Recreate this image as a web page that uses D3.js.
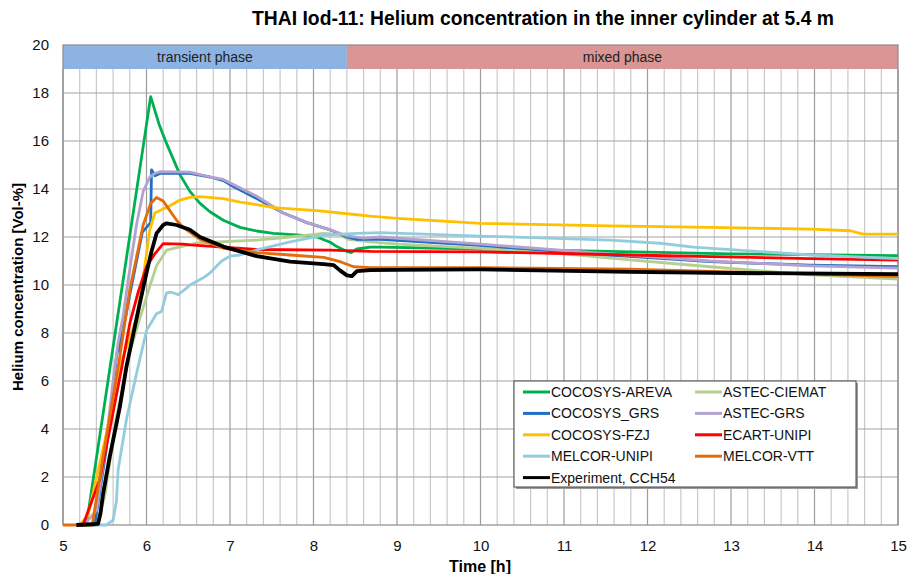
<!DOCTYPE html>
<html>
<head>
<meta charset="utf-8">
<script src="https://cdn.jsdelivr.net/npm/d3@7"></script>
<style>
  body { margin: 0; background: #fff; }
  svg { display: block; font-family: "Liberation Sans", Arial, sans-serif; }
</style>
</head>
<body>
<div id="chart"></div>
<script>
// series values: [time h, helium vol-%]
const cocosysAreva = [[5.2,0],[5.28,0],[6.05,17.85],[6.15,16.7],[6.24,15.9],[6.4,14.6],[6.52,13.9],[6.64,13.4],[6.76,13.05],[6.92,12.7],[7.12,12.4],[7.32,12.25],[7.52,12.15],[7.84,12.08],[8.04,12.0],[8.2,11.78],[8.28,11.6],[8.4,11.4],[8.45,11.35],[8.52,11.5],[8.68,11.58],[8.8,11.58],[10,11.5],[11.55,11.4],[13,11.3],[15,11.22]];
const astecCiemat = [[5.3,0],[5.4,0],[5.5,1.2],[5.64,4.5],[5.8,7.2],[5.92,8.6],[6.04,9.95],[6.12,10.8],[6.24,11.45],[6.44,11.62],[6.6,11.75],[7.32,11.87],[7.72,12.0],[8.12,12.15],[8.3,12.1],[8.42,11.9],[8.68,11.8],[9,11.7],[10,11.53],[11,11.3],[11.79,11.05],[12.75,10.76],[13.95,10.42],[15,10.25]];
const cocosysGrs = [[5.2,0],[5.38,0],[5.52,3.2],[5.64,7.0],[5.66,7.4],[5.68,7.25],[5.7,8.3],[5.73,8.3],[5.8,9.6],[5.95,12.2],[6.05,12.6],[6.06,14.8],[6.1,14.55],[6.16,14.65],[6.52,14.65],[6.76,14.5],[6.92,14.35],[7.04,14.1],[7.32,13.6],[7.64,13.0],[7.92,12.6],[8.2,12.3],[8.4,12.0],[8.52,11.9],[8.8,11.9],[10,11.65],[11.55,11.25],[12.75,10.97],[13.95,10.83],[15,10.76]];
const astecGrs = [[5.25,0],[5.4,0.6],[5.5,3.0],[5.6,6.0],[5.66,7.6],[5.72,8.7],[5.78,10.2],[5.88,12.5],[5.96,13.9],[6.04,14.5],[6.1,14.65],[6.16,14.72],[6.52,14.7],[6.76,14.5],[6.92,14.4],[7.32,13.7],[7.64,13.0],[7.92,12.6],[8.2,12.3],[8.4,12.05],[8.6,11.95],[8.8,12.0],[10,11.7],[11.55,11.3],[12.75,11.0],[13.95,10.8],[15,10.7]];
const cocosysFzj = [[5.2,0],[5.3,0.4],[5.5,3.5],[5.7,6.8],[5.88,8.6],[5.96,10.3],[6.04,12.3],[6.1,13.0],[6.28,13.3],[6.4,13.54],[6.52,13.65],[6.64,13.68],[6.92,13.6],[7.12,13.45],[7.32,13.35],[7.52,13.22],[8.04,13.1],[8.32,13.0],[8.68,12.87],[9,12.78],[10,12.57],[11.55,12.46],[12.75,12.4],[13.95,12.33],[14.43,12.26],[14.58,12.12],[15,12.12]];
const ecartUnipi = [[5.2,0],[5.24,0],[5.44,1.9],[5.55,3.8],[5.7,6.5],[5.8,8.4],[5.9,9.7],[6.0,10.76],[6.1,11.3],[6.2,11.72],[6.44,11.7],[6.52,11.67],[7.32,11.48],[8.2,11.45],[8.68,11.4],[10,11.38],[11.79,11.25],[13.95,11.1],[15,11.04]];
const melcorUnipi = [[5.3,0],[5.52,0],[5.6,0.2],[5.64,1.0],[5.66,2.3],[5.76,4.4],[5.88,6.3],[6.0,8.1],[6.12,8.8],[6.18,8.9],[6.24,9.67],[6.3,9.7],[6.38,9.6],[6.48,9.87],[6.52,10.0],[6.68,10.3],[6.76,10.5],[6.9,11.0],[7.0,11.2],[7.12,11.25],[7.32,11.46],[7.72,11.8],[8.12,12.08],[8.52,12.15],[8.8,12.18],[10,12.04],[11.55,11.87],[12.15,11.74],[12.55,11.58],[13.95,11.25],[15,11.1]];
const melcorVtt = [[5,0],[5.35,0],[5.48,2.85],[5.68,7.0],[5.8,9.8],[5.96,12.5],[6.05,13.4],[6.12,13.65],[6.2,13.5],[6.28,13.1],[6.36,12.7],[6.44,12.4],[6.64,11.9],[6.92,11.53],[7.32,11.35],[7.72,11.25],[8.12,11.15],[8.32,10.97],[8.48,10.76],[8.68,10.72],[10,10.72],[11.79,10.66],[13,10.55],[15,10.35]];
const experiment = [[5.16,0],[5.42,0.05],[5.45,0.5],[5.48,1.3],[5.56,2.85],[5.68,4.9],[5.76,6.6],[5.86,8.26],[5.98,10.2],[6.06,11.4],[6.12,12.15],[6.2,12.5],[6.24,12.57],[6.36,12.5],[6.52,12.3],[6.64,12.0],[6.92,11.6],[7.12,11.4],[7.32,11.2],[7.72,10.97],[8.12,10.87],[8.24,10.83],[8.32,10.6],[8.4,10.4],[8.46,10.37],[8.52,10.58],[8.68,10.62],[9,10.63],[10,10.65],[11.79,10.55],[13,10.5],[15,10.45]];

const seriesNames = ["COCOSYS-AREVA", "ASTEC-CIEMAT", "COCOSYS_GRS", "ASTEC-GRS", "COCOSYS-FZJ", "ECART-UNIPI", "MELCOR-UNIPI", "MELCOR-VTT", "Experiment, CCH54"];
const seriesData = [cocosysAreva, astecCiemat, cocosysGrs, astecGrs, cocosysFzj, ecartUnipi, melcorUnipi, melcorVtt, experiment];
const seriesColors = ["#00b050", "#b5cf8f", "#1f6fc5", "#b3a2cf", "#ffc000", "#ff0000", "#93cddd", "#e46c0a", "#000000"];

const phaseNames = ["transient phase", "mixed phase"];
const phaseStart = [5, 8.4];
const phaseEnd = [8.4, 15];
const phaseColors = ["#8db3e2", "#d99694"];

const xTicks = d3.range(5, 16);
const yTicks = d3.range(0, 21, 2);

const W = 909, H = 574;
const margin = { top: 45, right: 11, bottom: 49, left: 63 };

const svg = d3.select("#chart").append("svg")
    .attr("width", W)
    .attr("height", H);

const x = d3.scaleLinear().domain([5, 15]).range([margin.left, W - margin.right]);
const y = d3.scaleLinear().domain([0, 20]).range([H - margin.bottom, margin.top]);

// title
svg.append("text")
    .attr("x", 543)
    .attr("y", 25)
    .attr("text-anchor", "middle")
    .attr("textLength", 582)
    .attr("lengthAdjust", "spacingAndGlyphs")
    .style("font-family", "'Liberation Sans Narrow', 'Liberation Sans', Arial, sans-serif")
    .style("font-size", "21px")
    .style("font-weight", "bold")
    .text("THAI Iod-11: Helium concentration in the inner cylinder at 5.4 m");

// grid
const grid = svg.append("g");
const minor = d3.range(0, 51).map(i => 5 + i * 0.2);
grid.selectAll("line.minor")
    .data(minor.filter(v => Math.abs(v - Math.round(v)) > 1e-6))
    .enter().append("line")
    .attr("x1", d => x(d)).attr("x2", d => x(d))
    .attr("y1", y(0)).attr("y2", y(19))
    .attr("stroke", "#c9c9c9")
    .attr("stroke-width", 1.2);
grid.selectAll("line.major")
    .data(xTicks)
    .enter().append("line")
    .attr("x1", d => x(d)).attr("x2", d => x(d))
    .attr("y1", y(0)).attr("y2", y(19))
    .attr("stroke", "#9c9c9c")
    .attr("stroke-width", 1.2);
grid.selectAll("line.h")
    .data(yTicks.filter(v => v > 0 && v < 20))
    .enter().append("line")
    .attr("x1", x(5)).attr("x2", x(15))
    .attr("y1", d => y(d)).attr("y2", d => y(d))
    .attr("stroke", "#a4a4a4")
    .attr("stroke-width", 1.2);

// phase band
svg.selectAll("rect.phase")
    .data(phaseNames)
    .enter().append("rect")
    .attr("x", (d, i) => x(phaseStart[i]))
    .attr("y", y(20))
    .attr("width", (d, i) => x(phaseEnd[i]) - x(phaseStart[i]))
    .attr("height", y(19) - y(20))
    .attr("fill", (d, i) => phaseColors[i]);
svg.selectAll("text.phase")
    .data(phaseNames)
    .enter().append("text")
    .attr("x", (d, i) => (x(phaseStart[i]) + x(phaseEnd[i])) / 2)
    .attr("y", (y(20) + y(19)) / 2 + 5)
    .attr("text-anchor", "middle")
    .style("font-size", "14px")
    .style("fill", "#222")
    .text(d => d);

// frame
svg.append("rect")
    .attr("x", x(5)).attr("y", y(20))
    .attr("width", x(15) - x(5)).attr("height", y(0) - y(20))
    .attr("fill", "none")
    .attr("stroke", "#8c8c8c")
    .attr("stroke-width", 1.2);

// axes
const xAxis = svg.append("g")
    .attr("transform", `translate(0,${y(0)})`)
    .call(d3.axisBottom(x).tickValues(xTicks).tickSize(0).tickPadding(15).tickFormat(d3.format("d")));
const yAxis = svg.append("g")
    .attr("transform", `translate(${x(5)},0)`)
    .call(d3.axisLeft(y).tickValues(yTicks).tickSize(0).tickPadding(14));
[xAxis, yAxis].forEach(a => {
    a.select(".domain").remove();
    a.selectAll("text").style("font-size", "15px").style("font-family", "'Liberation Sans', Arial, sans-serif").attr("fill", "#111");
});

svg.append("text")
    .attr("x", 480)
    .attr("y", 572)
    .attr("text-anchor", "middle")
    .style("font-size", "16px")
    .style("font-weight", "bold")
    .text("Time [h]");

svg.append("text")
    .attr("transform", `translate(23,${y(10) + 2}) rotate(-90)`)
    .attr("text-anchor", "middle")
    .style("font-size", "15px")
    .style("font-weight", "bold")
    .text("Helium concentration [Vol-%]");

// curves
const line = d3.line()
    .x(d => x(d[0]))
    .y(d => y(d[1]));

svg.append("g").selectAll("path")
    .data(seriesData)
    .enter().append("path")
    .attr("d", line)
    .attr("fill", "none")
    .attr("stroke", (d, i) => seriesColors[i])
    .attr("stroke-width", (d, i) => i === seriesData.length - 1 ? 3.8 : 2.8)
    .attr("stroke-linejoin", "round");

// legend
const lg = svg.append("g").attr("transform", "translate(514,381)");
lg.append("rect")
    .attr("x", 2).attr("y", 2)
    .attr("width", 342).attr("height", 106)
    .attr("fill", "#9a9a9a");
lg.append("rect")
    .attr("width", 342).attr("height", 106)
    .attr("fill", "#fff")
    .attr("stroke", "#444")
    .attr("stroke-width", 1);

const item = lg.selectAll("g.item")
    .data(seriesNames)
    .enter().append("g")
    .attr("transform", (d, i) => `translate(${(i % 2) * 172 + 9},${Math.floor(i / 2) * 21.4 + 11})`);
item.append("line")
    .attr("x1", 0).attr("x2", 27)
    .attr("stroke", (d, i) => seriesColors[i])
    .attr("stroke-width", 3);
item.append("text")
    .attr("x", 28)
    .attr("y", 5)
    .style("font-size", "14px")
    .style("fill", "#111")
    .text(d => d);
</script>
</body>
</html>
